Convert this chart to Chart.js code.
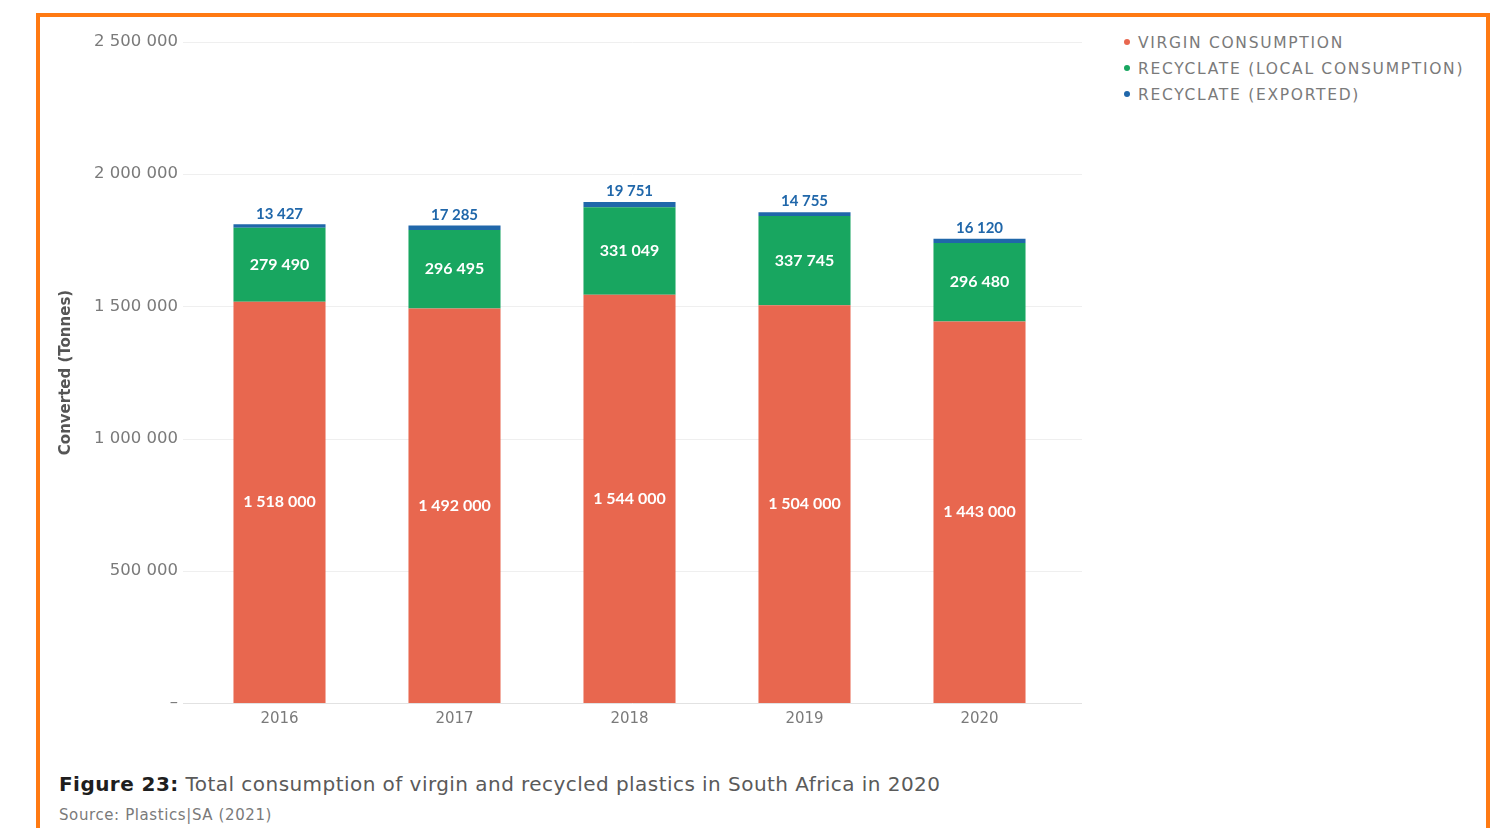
<!DOCTYPE html>
<html>
<head>
<meta charset="utf-8">
<script src="https://cdn.jsdelivr.net/npm/chart.js@4.4.1/dist/chart.umd.min.js"></script>
<style>
  html, body { margin: 0; padding: 0; background: #fff; }
  body { width: 1490px; height: 828px; position: relative; overflow: hidden; font-family: "DejaVu Sans", sans-serif; }
  #frame { position: absolute; left: 36px; top: 13px; width: 1446px; height: 830px; border: 4px solid #ff7a12; border-bottom: none; }
  #wrap { position: absolute; left: 40px; top: 17px; width: 1060px; height: 720px; }
  #legend { position: absolute; left: 1124px; top: 32px; }
  .item { height: 26px; line-height: 22px; font-size: 15.5px; color: #7a7a7a; letter-spacing: 1.7px; white-space: nowrap; }
  .dot { display: inline-block; width: 6px; height: 6px; border-radius: 3px; margin-right: 8px; vertical-align: middle; position: relative; top: -2px; }
  #caption { position: absolute; left: 59px; top: 772px; font-size: 20px; color: #5a5a5a; letter-spacing: 0.45px; white-space: nowrap; }
  #caption b { color: #1e1e1e; }
  #source { position: absolute; left: 59px; top: 806px; font-size: 15px; color: #7a7a7a; letter-spacing: 0.6px; white-space: nowrap; }
</style>
</head>
<body>
<div id="frame"></div>
<div id="wrap"><canvas id="barGraph" width="1060" height="720"></canvas></div>
<div id="legend"></div>
<div id="caption"><b>Figure 23:</b> Total consumption of virgin and recycled plastics in South Africa in 2020</div>
<div id="source">Source: Plastics|SA (2021)</div>
<script>
const years = ['2016', '2017', '2018', '2019', '2020'];
const virgin = [1518000, 1492000, 1544000, 1504000, 1443000];
const recycLocal = [279490, 296495, 331049, 337745, 296480];
const recycExported = [13427, 17285, 19751, 14755, 16120];
const seriesNames = ['VIRGIN CONSUMPTION', 'RECYCLATE (LOCAL CONSUMPTION)', 'RECYCLATE (EXPORTED)'];
const seriesColors = ['#e8674f', '#18a660', '#2067aa'];

function fmt(v){
    return String(v).replace(/\B(?=(\d{3})+(?!\d))/g, ' ');
}

// legend built from the series arrays
const legendEl = document.getElementById('legend');
seriesNames.forEach((name, i) => {
    const d = document.createElement('div');
    d.className = 'item';
    d.innerHTML = '<span class="dot" style="background:' + seriesColors[i] + '"></span>' + name;
    legendEl.appendChild(d);
});

//horizontal grid, a bit wider than the bar area
const gridPlugin = {
    id: 'wideGrid',
    beforeDatasetsDraw(chart){
        const ctx = chart.ctx;
        const y = chart.scales.y;
        ctx.save();
        y.ticks.forEach(t => {
            const py = Math.round(y.getPixelForValue(t.value)) + 0.5;
            ctx.strokeStyle = t.value === 0 ? '#e2e2e2' : '#efefef';
            ctx.lineWidth = 1;
            ctx.beginPath();
            ctx.moveTo(143, py);
            ctx.lineTo(1042, py);
            ctx.stroke();
        });
        ctx.restore();
    }
};

// values written on the bars
const labelPlugin = {
    id: 'barLabels',
    afterDatasetsDraw(chart){
        const ctx = chart.ctx;
        ctx.save();
        ctx.textAlign = 'center';
        chart.data.datasets.forEach((ds, di) => {
            const meta = chart.getDatasetMeta(di);
            meta.data.forEach((bar, i) => {
                const v = ds.data[i];
                if(di === 2){
                    ctx.fillStyle = '#2067aa';
                    ctx.font = 'bold 15px Lato, "Noto Sans", sans-serif';
                    ctx.textBaseline = 'bottom';
                    ctx.fillText(fmt(v), bar.x, bar.y - 3);
                }else{
                    ctx.fillStyle = '#ffffff';
                    ctx.font = 'bold 16px Lato, "Noto Sans", sans-serif';
                    ctx.textBaseline = 'middle';
                    ctx.fillText(fmt(v), bar.x, (bar.y + bar.base) / 2);
                }
            });
        });
        ctx.restore();
    }
};

const ctx = document.getElementById('barGraph').getContext('2d');
const chart = new Chart(ctx, {
    type: 'bar',
    data: {
        labels: years,
        datasets: [
            { label: seriesNames[0], data: virgin, backgroundColor: seriesColors[0] },
            { label: seriesNames[1], data: recycLocal, backgroundColor: seriesColors[1] },
            { label: seriesNames[2], data: recycExported, backgroundColor: seriesColors[2] }
        ]
    },
    options: {
        responsive: false,
        animation: false,
        barPercentage: 0.526,
        categoryPercentage: 1,
        layout: { padding: { top: 25, right: 33, bottom: 4, left: 0 } },
        plugins: {
            legend: { display: false },
            tooltip: { enabled: false }
        },
        scales: {
            x: {
                stacked: true,
                grid: { display: false, drawTicks: false },
                border: { display: false },
                ticks: { color: '#7a7a7a', font: { size: 15, family: '"DejaVu Sans"' }, padding: 7 },
                afterFit(scale){ scale.height = 30; }
            },
            y: {
                stacked: true,
                min: 0,
                max: 2500000,
                grid: { display: false, drawTicks: false },
                border: { display: false },
                ticks: {
                    stepSize: 500000,
                    padding: 14,
                    color: '#7a7a7a',
                    font: { size: 16.5, family: '"DejaVu Sans"' },
                    callback: v => v === 0 ? '–' : fmt(v)
                },
                title: {
                    display: true,
                    text: 'Converted (Tonnes)',
                    color: '#555',
                    font: { size: 15, weight: 'bold', family: '"DejaVu Sans"' },
                    padding: { top: 17, bottom: 0 }
                },
                afterFit(scale){ scale.width = 152; }
            }
        }
    },
    plugins: [gridPlugin, labelPlugin]
});
</script>
</body>
</html>
